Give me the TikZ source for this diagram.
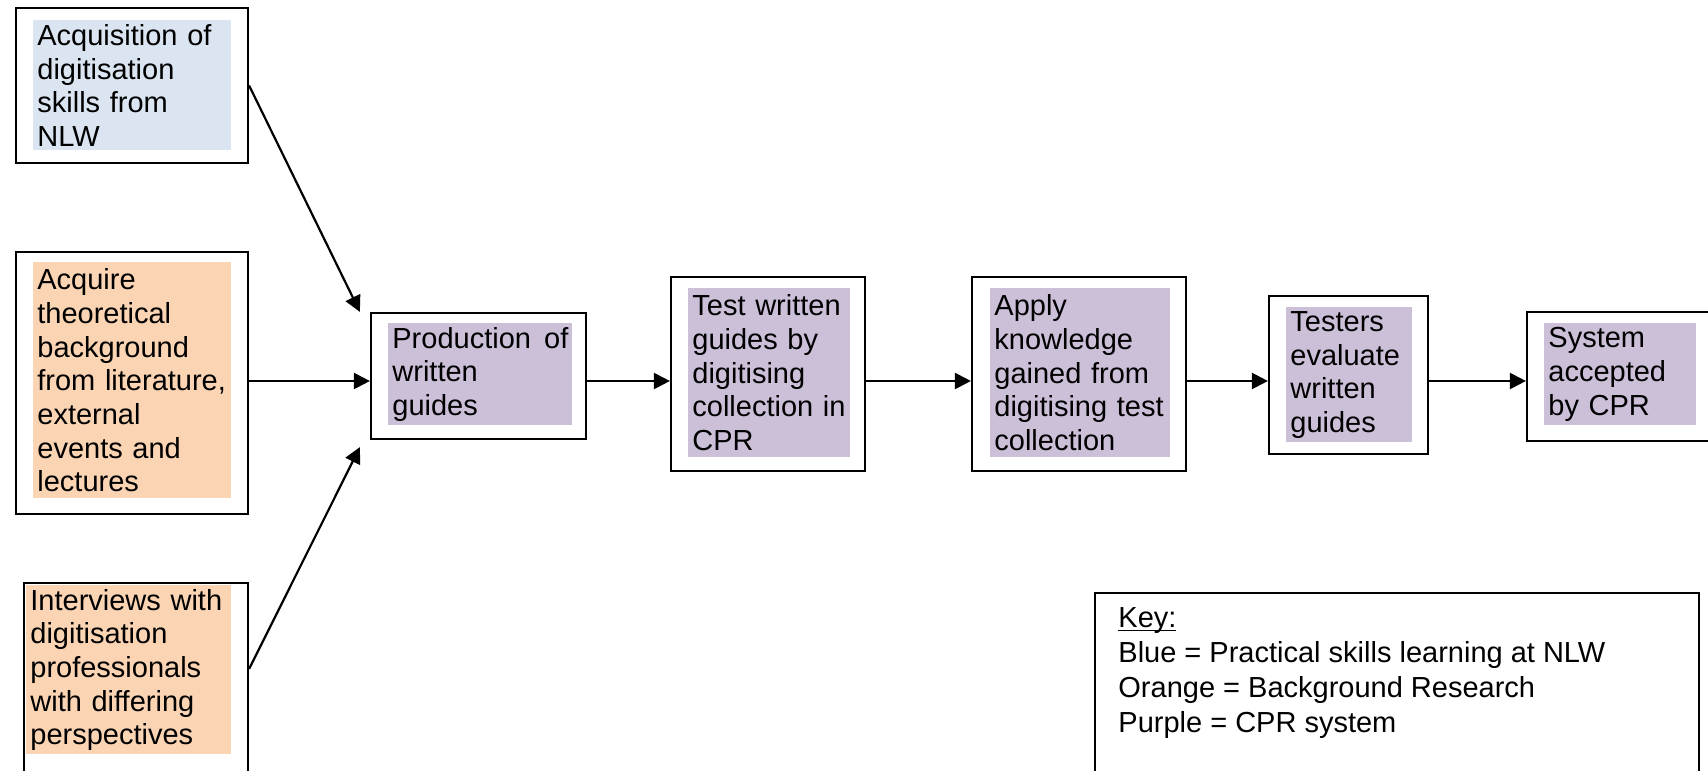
\documentclass[tikz,border=0pt]{standalone}
\usepackage{fontspec}
\setmainfont{Liberation Sans}
\usepackage{tikz}
\usetikzlibrary{arrows.meta}

\definecolor{nlwblue}{RGB}{219,229,241}
\definecolor{resorange}{RGB}{251,212,180}
\definecolor{cprpurple}{RGB}{204,192,217}

\begin{document}
\begin{tikzpicture}[x=0.5pt,y=-0.5pt]
\useasboundingbox (0,0) rectangle (1708,771);
\clip (0,0) rectangle (1708,771);

\tikzstyle{every node}=[font=\fontsize{14.5}{16.85}\selectfont]
\tikzstyle{frame}=[draw,line width=1.1pt,fill=white,inner sep=0pt]
\tikzstyle{inbox}=[anchor=north west,inner xsep=2pt,inner ysep=0pt,align=left]
\tikzstyle{arr}=[line width=1.1pt,-{Triangle[length=8pt,width=8pt]}]

\node (acq) [frame,minimum width=116pt,minimum height=77.5pt] at (132,85.5) {};
\node (theory) [frame,minimum width=116pt,minimum height=131pt] at (132,383) {};
\node (interv) [frame,minimum width=112pt,minimum height=118.5pt] at (136,701.5) {};
\node (prod) [frame,minimum width=107.5pt,minimum height=63pt] at (478.5,376) {};
\node (test) [frame,minimum width=97pt,minimum height=97pt] at (768,374) {};
\node (apply) [frame,minimum width=107pt,minimum height=97pt] at (1079,374) {};
\node (testers) [frame,minimum width=79.5pt,minimum height=79pt] at (1348.5,375) {};
\node (system) [frame,minimum width=101.5pt,minimum height=64.5pt] at (1628.5,376.5) {};
\node (key) [frame,minimum width=302pt,minimum height=113.5pt] at (1397,706.5) {};

\node (acqtxt) [inbox,fill=nlwblue,text width=95pt,minimum height=65pt] at (33,20)
  {Acquisition of\\digitisation\\skills from\\NLW};
\node (theorytxt) [inbox,fill=resorange,text width=95pt,minimum height=118pt] at (33,262)
  {Acquire\\theoretical\\background\\from literature,\\external\\events and\\lectures};
\node (intervtxt) [inbox,fill=resorange,text width=98.5pt,minimum height=84.5pt] at (26,585)
  {Interviews with\\digitisation\\professionals\\with differing\\perspectives};
\node (prodtxt) [inbox,fill=cprpurple,text width=88pt,minimum height=51pt] at (388,323)
  {Production\hfill of\\written\\guides};
\node (testtxt) [inbox,fill=cprpurple,text width=77pt,minimum height=84.5pt] at (688,288)
  {Test written\\guides by\\digitising\\collection in\\CPR};
\node (applytxt) [inbox,fill=cprpurple,text width=86pt,minimum height=84.5pt] at (990,288)
  {Apply\\knowledge\\gained from\\digitising test\\collection};
\node (testerstxt) [inbox,fill=cprpurple,text width=59pt,minimum height=67.5pt] at (1286,307)
  {Testers\\evaluate\\written\\guides};
\node (systemtxt) [inbox,fill=cprpurple,text width=72pt,minimum height=51pt] at (1544,323)
  {System\\accepted\\by CPR};

\node (keytxt) [anchor=north west,inner sep=0pt,align=left,font=\fontsize{14.5}{17.5}\selectfont] at (1118,607)
  {\vphantom{K}\underline{\smash{Key:}}\\Blue = Practical skills learning at NLW\\Orange = Background Research\\Purple = CPR system};

\coordinate (row) at (0,381);

\draw[arr] (acq.east) -- ([xshift=-5pt]prod.north west);
\draw[arr] (theory.east |- row) -- (prod.west |- row);
\draw[arr] ([yshift=-43.5pt]interv.north east) -- ([xshift=-5pt,yshift=-3.5pt]prod.south west);
\draw[arr] (prod.east |- row) -- (test.west |- row);
\draw[arr] (test.east |- row) -- (apply.west |- row);
\draw[arr] (apply.east |- row) -- (testers.west |- row);
\draw[arr] (testers.east |- row) -- (system.west |- row);
\end{tikzpicture}
\end{document}
